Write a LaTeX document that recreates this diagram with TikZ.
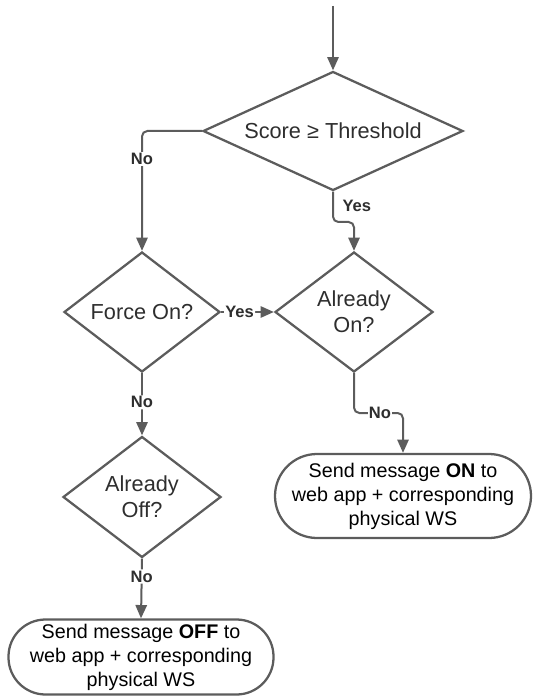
\documentclass[tikz,border=0pt]{standalone}
\usepackage{fontspec}
\setmainfont{Liberation Sans}
\usetikzlibrary{arrows.meta,shapes.geometric}
\definecolor{linegray}{HTML}{5C5C5C}
\definecolor{textgray}{HTML}{2E2E2E}
\begin{document}
\begin{tikzpicture}[x=0.75pt,y=-0.75pt,
  decision/.style={diamond,draw=linegray,line width=1.7pt,inner sep=0pt,aspect=1.3,
    text=textgray,align=center,font=\fontsize{16.3}{19.5}\selectfont},
  terminal/.style={rectangle,draw=linegray,line width=1.7pt,inner sep=0pt,
    text=black,align=center,font=\fontsize{14.8}{18}\selectfont},
  flow/.style={draw=linegray,line width=1.5pt,rounded corners=4pt,
    -{Triangle[width=8.5pt,length=10pt]}},
  lbl/.style={font=\fontsize{12.4}{14}\selectfont\bfseries,text=textgray,
    fill=white,inner sep=1pt}]
\useasboundingbox (0,0) rectangle (532,698);
\node[decision,aspect=2.18,minimum width=260*0.75pt,minimum height=119*0.75pt] (d1) at (333,131) {Score ≥ Threshold};
\node[decision,minimum width=156*0.75pt,minimum height=120*0.75pt] (d2) at (142,312) {Force On?};
\node[decision,minimum width=158*0.75pt,minimum height=120*0.75pt] (d3) at (354,312) {Already\\On?};
\node[decision,minimum width=158*0.75pt,minimum height=121*0.75pt] (d4) at (142,497) {Already\\Off?};
\node[terminal,minimum width=256*0.75pt,minimum height=84*0.75pt,rounded corners=42*0.75pt] (ton) at (403,496)
  {Send message \textbf{ON} to\\web app + corresponding\\physical WS};
\node[terminal,minimum width=265*0.75pt,minimum height=75*0.75pt,rounded corners=37*0.75pt] (toff) at (141,657)
  {Send message \textbf{OFF} to\\web app + corresponding\\physical WS};
\coordinate (start) at (333,6);
\coordinate (a1) at (142,131);
\coordinate (b1) at (333,222);
\coordinate (b2) at (354,222);
\coordinate (c1) at (354,413);
\coordinate (c2) at (403,413);
\draw[flow] (start) -- (d1.north);
\draw[flow] (d1.west) -- (a1) -- (d2.north);
\node[lbl] (lno1) at (142,159) {No};
\draw[flow] (d1.south) -- (b1) -- (b2) -- (d3.north);
\node[lbl,anchor=west,fill=none] (lyes1) at (341,206) {Yes};
\draw[flow] (d2.east) -- node[lbl,pos=0.35] (lyes2) {Yes} (d3.west);
\draw[flow] (d2.south) -- node[lbl,pos=0.47] (lno2) {No} (d4.north);
\draw[flow] (d3.south) -- (c1) -- (c2) -- (ton.north);
\node[lbl] (lno3) at (380,413) {No};
\draw[flow] (d4.south) -- node[lbl,pos=0.3] (lno4) {No} (toff.north);
\end{tikzpicture}
\end{document}
